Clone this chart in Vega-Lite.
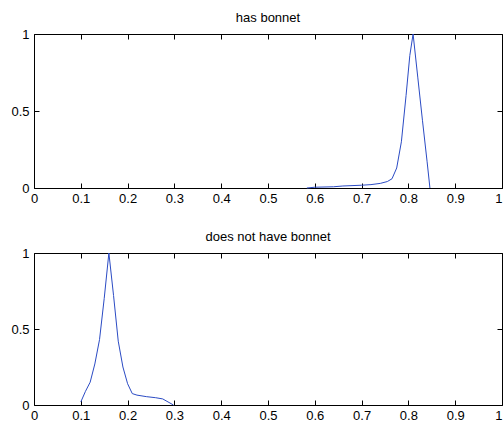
{
  "$schema": "https://vega.github.io/schema/vega-lite/v6.json",
  "background": "white",
  "padding": {"left": 10, "top": 12, "right": 0, "bottom": 0},
  "config": {
    "view": {"stroke": null},
    "font": "Liberation Sans",
    "axis": {"domainColor": "black", "tickColor": "black", "labelColor": "black", "labelFont": "Liberation Sans", "labelFontSize": 13, "tickSize": -5, "labelPadding": 10, "grid": false, "title": null, "domainWidth": 1, "tickWidth": 1},
    "axisX": {"labelPadding": 9},
    "title": {"font": "Liberation Sans", "fontSize": 13, "fontWeight": "normal", "color": "black", "offset": 3},
    "concat": {"spacing": 26}
  },
  "datasets": {
    "top": [
      {"x": 0.583, "y": 0.0},
      {"x": 0.60, "y": 0.005},
      {"x": 0.64, "y": 0.008},
      {"x": 0.66, "y": 0.013},
      {"x": 0.70, "y": 0.018},
      {"x": 0.72, "y": 0.022},
      {"x": 0.74, "y": 0.030},
      {"x": 0.755, "y": 0.042},
      {"x": 0.765, "y": 0.06},
      {"x": 0.775, "y": 0.13},
      {"x": 0.785, "y": 0.30},
      {"x": 0.795, "y": 0.60},
      {"x": 0.803, "y": 0.86},
      {"x": 0.810, "y": 1.0},
      {"x": 0.820, "y": 0.72},
      {"x": 0.830, "y": 0.44},
      {"x": 0.840, "y": 0.17},
      {"x": 0.846, "y": 0.0}
    ],
    "bottom": [
      {"x": 0.100, "y": 0.02},
      {"x": 0.110, "y": 0.09},
      {"x": 0.120, "y": 0.15},
      {"x": 0.130, "y": 0.27},
      {"x": 0.140, "y": 0.43},
      {"x": 0.150, "y": 0.70},
      {"x": 0.160, "y": 1.0},
      {"x": 0.170, "y": 0.72},
      {"x": 0.180, "y": 0.42},
      {"x": 0.190, "y": 0.25},
      {"x": 0.200, "y": 0.14},
      {"x": 0.210, "y": 0.075},
      {"x": 0.220, "y": 0.065},
      {"x": 0.240, "y": 0.055},
      {"x": 0.260, "y": 0.048},
      {"x": 0.275, "y": 0.040},
      {"x": 0.298, "y": 0.0}
    ]
  },
  "vconcat": [
    {
      "title": "has bonnet",
      "width": 468,
      "height": 154,
      "data": {"name": "top"},
      "layer": [
        {
          "mark": {"type": "line", "color": "#2b4bc4", "strokeWidth": 1},
          "encoding": {
            "x": {"field": "x", "type": "quantitative", "scale": {"domain": [0, 1]}, "axis": {"orient": "bottom", "values": [0, 0.1, 0.2, 0.3, 0.4, 0.5, 0.6, 0.7, 0.8, 0.9, 1], "format": "~g", "labelAlign": {"condition": {"test": "datum.value == 1", "value": "right"}, "value": "center"}}},
            "y": {"field": "y", "type": "quantitative", "scale": {"domain": [0, 1]}, "axis": {"orient": "left", "values": [0, 0.5, 1], "format": "~g"}}
          }
        },
        {
          "mark": {"type": "line", "opacity": 0},
          "encoding": {
            "x": {"field": "x", "type": "quantitative", "scale": {"domain": [0, 1]}, "axis": {"orient": "top", "labels": false, "values": [0, 0.1, 0.2, 0.3, 0.4, 0.5, 0.6, 0.7, 0.8, 0.9, 1]}},
            "y": {"field": "y", "type": "quantitative", "scale": {"domain": [0, 1]}, "axis": {"orient": "right", "labels": false, "values": [0, 0.5, 1]}}
          }
        }
      ],
      "resolve": {"axis": {"x": "independent", "y": "independent"}}
    },
    {
      "title": "does not have bonnet",
      "width": 468,
      "height": 152,
      "data": {"name": "bottom"},
      "layer": [
        {
          "mark": {"type": "line", "color": "#2b4bc4", "strokeWidth": 1},
          "encoding": {
            "x": {"field": "x", "type": "quantitative", "scale": {"domain": [0, 1]}, "axis": {"orient": "bottom", "values": [0, 0.1, 0.2, 0.3, 0.4, 0.5, 0.6, 0.7, 0.8, 0.9, 1], "format": "~g", "labelAlign": {"condition": {"test": "datum.value == 1", "value": "right"}, "value": "center"}}},
            "y": {"field": "y", "type": "quantitative", "scale": {"domain": [0, 1]}, "axis": {"orient": "left", "values": [0, 0.5, 1], "format": "~g"}}
          }
        },
        {
          "mark": {"type": "line", "opacity": 0},
          "encoding": {
            "x": {"field": "x", "type": "quantitative", "scale": {"domain": [0, 1]}, "axis": {"orient": "top", "labels": false, "values": [0, 0.1, 0.2, 0.3, 0.4, 0.5, 0.6, 0.7, 0.8, 0.9, 1]}},
            "y": {"field": "y", "type": "quantitative", "scale": {"domain": [0, 1]}, "axis": {"orient": "right", "labels": false, "values": [0, 0.5, 1]}}
          }
        }
      ],
      "resolve": {"axis": {"x": "independent", "y": "independent"}}
    }
  ]
}
